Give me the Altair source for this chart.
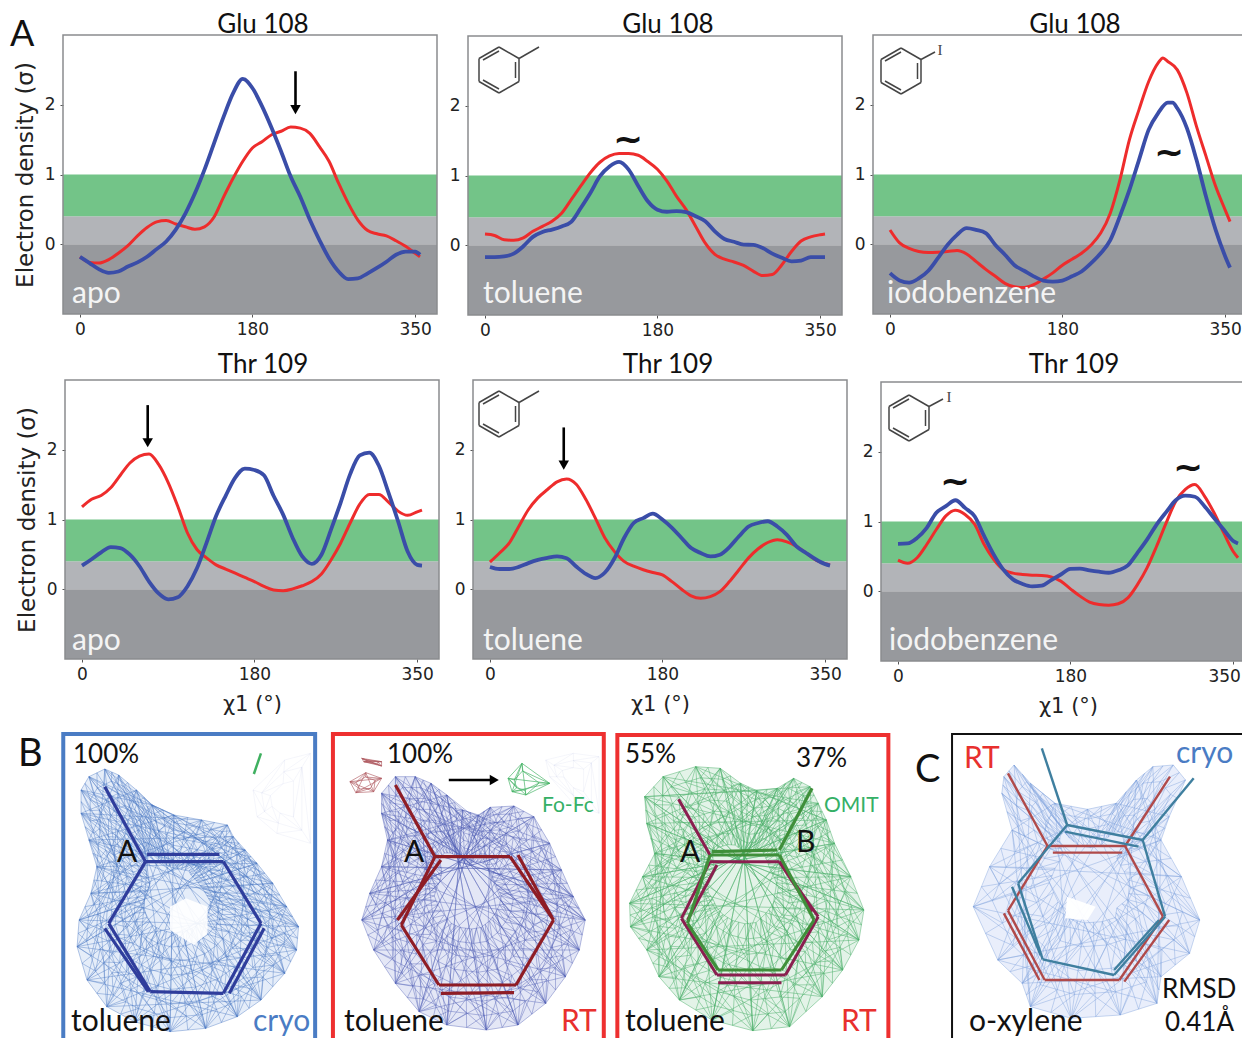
import altair as alt
import pandas as pd

# ---------- curve values: chi1 angle (deg) and electron density (sigma) ----------
DEG = list(range(0, 360, 10)) + [355]
DEG_IODO_RED = DEG[:29] + [285] + DEG[29:]
DEG_IODO_BLUE = DEG[:30] + [295] + DEG[30:]

GLU_APO_RED = [-.18,-.26,-.27,-.22,-.13,-.02,.12,.24,.32,.34,.29,.25,.215,.25,.39,.68,.95,1.19,1.38,1.47,1.57,1.62,1.68,1.665,1.59,1.40,1.19,.875,.59,.35,.2,.15,.12,.05,-.03,-.13,-.18]
GLU_APO_BLUE = [-.18,-.27,-.36,-.41,-.39,-.32,-.26,-.18,-.07,.04,.21,.44,.73,1.07,1.45,1.83,2.17,2.37,2.24,1.98,1.67,1.33,.97,.68,.35,.06,-.2,-.39,-.50,-.49,-.42,-.34,-.25,-.15,-.105,-.105,-.15]
GLU_TOL_RED = [.16,.14,.08,.07,.105,.2,.27,.345,.46,.655,.85,1.04,1.19,1.28,1.315,1.315,1.29,1.2,1.09,.92,.70,.51,.27,.03,-.13,-.2,-.24,-.29,-.37,-.435,-.42,-.28,-.09,.06,.12,.15,.16]
GLU_TOL_BLUE = [-.17,-.17,-.16,-.12,-.015,.12,.19,.225,.27,.335,.535,.75,.99,1.13,1.195,1.085,.85,.63,.51,.48,.49,.475,.415,.345,.2,.09,.05,.01,.005,-.04,-.12,-.18,-.23,-.22,-.17,-.17,-.17]
GLU_IOD_RED = [.205,.02,-.06,-.105,-.12,-.115,-.105,-.09,-.14,-.25,-.36,-.46,-.56,-.61,-.62,-.58,-.5,-.41,-.3,-.215,-.13,-.01,.16,.445,.92,1.5,1.93,2.33,2.6,2.67,2.62,2.5,2.17,1.69,1.26,.83,.49,.325]
GLU_IOD_BLUE = [-.415,-.52,-.55,-.49,-.38,-.2,-.01,.135,.23,.205,.16,-.01,-.15,-.3,-.38,-.46,-.52,-.535,-.52,-.46,-.39,-.27,-.13,.06,.4,.78,1.21,1.64,1.88,2.03,2.03,1.95,1.665,1.21,.68,.205,-.175,-.335]
THR_APO_RED = [1.18,1.29,1.345,1.455,1.635,1.81,1.91,1.94,1.79,1.53,1.19,.81,.57,.45,.35,.29,.23,.17,.11,.04,-.01,-.02,.005,.05,.11,.22,.42,.66,.95,1.22,1.36,1.36,1.25,1.12,1.06,1.11,1.135]
THR_APO_BLUE = [.34,.43,.53,.605,.59,.495,.33,.11,-.06,-.145,-.115,.04,.30,.665,1.05,1.34,1.6,1.73,1.71,1.635,1.34,1.07,.735,.47,.365,.495,.855,1.24,1.65,1.92,1.96,1.77,1.385,.975,.54,.35,.34]
THR_TOL_RED = [.39,.52,.66,.90,1.14,1.31,1.43,1.54,1.58,1.505,1.29,1.02,.735,.54,.40,.33,.28,.24,.205,.11,0,-.095,-.13,-.105,-.035,.11,.28,.45,.58,.67,.71,.68,.615,.52,.42,.365,.35]
THR_TOL_BLUE = [.32,.29,.29,.32,.375,.42,.45,.47,.445,.325,.22,.16,.24,.445,.735,.95,1.02,1.085,1.0,.88,.735,.59,.52,.47,.495,.605,.76,.90,.95,.975,.90,.78,.615,.52,.43,.36,.34]
THR_IOD_RED = [.445,.40,.48,.67,.885,1.08,1.16,1.10,.96,.67,.455,.31,.26,.24,.23,.225,.205,.145,.035,-.07,-.155,-.19,-.2,-.18,-.095,.095,.335,.645,.98,1.29,1.46,1.53,1.365,1.125,.84,.57,.48]
THR_IOD_BLUE = [.68,.685,.765,.91,1.125,1.22,1.305,1.195,1.075,.79,.525,.31,.17,.105,.07,.08,.16,.24,.32,.325,.30,.28,.265,.30,.37,.55,.74,.955,1.135,1.305,1.37,1.355,1.22,1.05,.885,.72,.685]

X_TICKS = [0, 180, 350]
Y_TICKS = [0, 1, 2]
X_DOMAIN = [-17.75, 372.75]
Y_DOMAIN = [-1, 3]
BANDS = {"low": [-1, 0], "mid": [0, .4], "green": [.4, 1]}

ARROW_GLU_APO = [225, 2.48, 1.93]
ARROW_THR_APO = [68.6, 2.64, 2.10]
ARROW_THR_TOL = [77, 2.32, 1.78]

# ---------- panel B / C drawings, read in crop units ----------
BLOB_CRYO = [(265,147),(300,165),(345,210),(385,255),(440,285),(510,300),(575,315),(590,350),(620,390),(650,430),(690,490),(725,560),(755,620),(750,690),(720,760),(660,840),(600,890),(520,925),(430,935),(340,905),(270,860),(220,780),(195,680),(200,600),(230,520),(245,440),(225,360),(205,280),(205,210),(225,170)]
HOLE_CRYO = [(430,560),(470,535),(525,560),(525,640),(490,675),(430,630)]
RING_CRYO = [(368,425),(565,425),(660,610),(565,820),(380,815),(275,610),(368,425)]
BONDS_CRYO = [[(265,200),(368,425)],[(372,403),(555,403)],[(668,625),(580,820)],[(265,625),(375,815)]]
FAINT_CRYO = [(640,210),(720,120),(785,100),(785,370),(700,340),(650,290)]
GREEN_TICK = [[(660,100),(642,162)]]

BLOB_RT = [(1000,170),(1050,170),(1090,190),(1130,225),(1170,270),(1210,285),(1240,262),(1300,258),(1350,290),(1390,370),(1420,450),(1450,530),(1480,600),(1465,690),(1430,770),(1380,850),(1310,915),(1230,930),(1130,915),(1060,875),(1000,790),(945,690),(915,600),(935,520),(965,440),(980,360),(965,280),(965,220)]
RING_RT = [(1100,410),(1290,410),(1400,600),(1305,795),(1110,795),(1015,615),(1100,410)]
BONDS_RT = [[(1000,195),(1100,410)],[(1115,420),(1005,600)],[(1310,405),(1395,590)],[(1115,820),(1300,818)]]
RED_BLOB_A = [(885,185),(925,158),(965,175),(945,215),(900,218)]
RED_BLOB_B = [(915,115),(965,125),(965,138),(920,125)]
FOFC_BLOB = [(1285,175),(1320,130),(1390,190),(1330,225),(1295,215)]
FAINT_RT = [(1380,120),(1450,100),(1515,110),(1515,280),(1450,250),(1390,170)]

BLOB_OMIT = [(210,140),(270,145),(320,190),(360,212),(410,205),(450,175),(490,200),(510,250),(530,300),(550,370),(590,470),(622,570),(610,660),(570,750),(520,830),(440,920),(350,932),(250,900),(170,840),(120,770),(90,690),(50,620),(48,550),(80,470),(110,400),(90,310),(85,230),(130,170)]
RING_OMIT_A = [(245,425),(415,425),(510,590),(430,765),(262,765),(175,595),(245,425)]
BONDS_OMIT_A = [[(168,238),(245,405)],[(265,788),(420,788)],[(495,575),(415,425)],[(262,435),(190,600)]]
RING_OMIT_B = [(245,405),(415,405),(500,600),(420,750),(265,750),(190,610),(245,405)]
BONDS_OMIT_B = [[(495,205),(415,390)],[(250,395),(410,390)]]

BLOB_C = [(990,135),(1030,190),(1090,250),(1170,268),(1240,250),(1290,180),(1330,140),(1380,135),(1410,180),(1370,290),(1350,360),(1400,470),(1445,600),(1420,700),(1350,770),(1340,850),(1250,885),(1130,895),(1030,860),(1010,790),(950,720),(890,560),(930,440),(985,330),(960,220),(965,170)]
HOLE_C = [(1120,530),(1190,560),(1170,600),(1115,595)]
RING_C_RT = [(1072,378),(1262,378),(1355,590),(1248,780),(1065,780),(975,572),(1072,378)]
BONDS_C_RT = [[(975,160),(1072,378)],[(1372,170),(1262,378)],[(1085,398),(1255,398)],[(965,580),(1052,780)],[(1370,600),(1260,785)]]
RING_C_CRYO = [(1120,315),(1305,360),(1360,590),(1235,765),(1060,718),(1000,490),(1120,315)]
BONDS_C_CRYO = [[(1058,85),(1120,315)],[(1430,175),(1305,360)],[(1115,335),(1295,380)],[(985,500),(1055,705)],[(1345,600),(1235,750)]]

# text: (label, x, baseline y, size, colour)
TEXT_LEFT = [
    ("A",10,46,36,"#111"),("B",18,766,38,"#111"),("C",915,782,38,"#111"),
    ("apo",72,303,30,"#f4f4f4"),("toluene",483,303,30,"#f4f4f4"),("iodobenzene",887,303,30,"#f4f4f4"),
    ("apo",72,650,30,"#f4f4f4"),("toluene",483,650,30,"#f4f4f4"),("iodobenzene",889,650,30,"#f4f4f4"),
    ("100%",73,763,26,"#111"),("toluene",71,1031,30,"#111"),("cryo",253,1031,30,"#4a7cc4"),("A",117,862,30,"#111"),
    ("100%",387,763,26,"#111"),("toluene",344,1031,30,"#111"),("RT",561,1031,30,"#e8302e"),("A",404,862,30,"#111"),
    ("Fo-Fc",542,812,21,"#35b066"),
    ("55%",625,763,26,"#111"),("37%",796,767,26,"#111"),("OMIT",824,812,21,"#35b066"),("A",680,862,30,"#111"),("B",796,852,30,"#111"),
    ("toluene",625,1031,30,"#111"),("RT",841,1031,30,"#e8302e"),
    ("RT",964,768,30,"#e8302e"),("cryo",1176,763,30,"#4a7cc4"),("o-xylene",969,1031,30,"#111"),
    ("RMSD",1162,998,26,"#111"),("0.41Å",1165,1031,26,"#111"),
]
TITLES = [("Glu 108",263,33),("Glu 108",668,33),("Glu 108",1075,33),("Thr 109",263,373),("Thr 109",668,373),("Thr 109",1074,373)]
TILDES = [(628,140),(1169,153),(955,482),(1188,468)]

# molecule icons: ring template around a centre, plus substituent
ICON_RING = [(0,-23),(20,-11.5),(20,11.5),(0,23),(-20,11.5),(-20,-11.5),(0,-23)]
ICON_INNER = [[(16.5,-8),(16.5,8)],[(-16,10),(0,19)],[(-16,-10),(0,-19)]]
ICON_SUB_METHYL = [(20,-11.5),(40,-23)]
ICON_SUB_IODO = [(20,-11.5),(34,-19)]
ICONS = [(499,70,"m"),(901,71,"i"),(499,414,"m"),(909,418,"i")]
IODO_LABELS = [("I",940,55),("I",949,402)]

W, H = 1234, 1030
OFF = 8


def page_x():
    return alt.Scale(domain=[0, 1250], range=[-OFF, 1250 - OFF], nice=False, zero=False)

def page_y():
    return alt.Scale(domain=[0, 1046], range=[-OFF, 1046 - OFF], nice=False, zero=False)

def b_x():
    return alt.Scale(domain=[0, 1568], range=[-OFF, 620 - OFF], nice=False, zero=False)

def c_x():
    return alt.Scale(domain=[0, 1568], range=[610 - OFF, 1250 - OFF], nice=False, zero=False)

def crop_y():
    return alt.Scale(domain=[0, 978], range=[720 - OFF, 1046 - OFF], nice=False, zero=False)


def seg_df(segs):
    return pd.DataFrame([{"x": a[0], "y": a[1], "x2": b[0], "y2": b[1]} for a, b in segs])

def chain(pts):
    return [(pts[i], pts[i + 1]) for i in range(len(pts) - 1)]

def rules(segs, xs, ys, color, width, opacity=1.0):
    return alt.Chart(seg_df(segs)).mark_rule(color=color, strokeWidth=width, opacity=opacity).encode(
        x=alt.X("x:Q", scale=xs, axis=None), y=alt.Y("y:Q", scale=ys, axis=None),
        x2="x2:Q", y2="y2:Q")

def polygon(pts, xs, ys, fill, opacity):
    closed = list(pts) + [pts[0]]
    df = pd.DataFrame({"x": [p[0] for p in closed], "y": [p[1] for p in closed], "i": range(len(closed))})
    return alt.Chart(df).mark_line(fill=fill, fillOpacity=opacity, strokeWidth=0).encode(
        x=alt.X("x:Q", scale=xs, axis=None), y=alt.Y("y:Q", scale=ys, axis=None), order="i:Q")

def inside(p, poly):
    c = False
    n = len(poly)
    for i in range(n):
        a, b = poly[i], poly[(i + 1) % n]
        if (a[1] > p[1]) != (b[1] > p[1]) and p[0] < a[0] + (p[1] - a[1]) * (b[0] - a[0]) / (b[1] - a[1]):
            c = not c
    return c

def mesh(pts, xs, ys, color, opacity, rings=(1.0, .9, .8, .7, .6, .5, .4, .3), chords=(5, 8, 11, 14), width=0.7, dense=True):
    base = list(pts)
    nodes = []
    for i, p in enumerate(base):
        nodes.append(p)
        if dense:
            q = base[(i + 1) % len(base)]
            nodes.append(((p[0] + q[0]) / 2, (p[1] + q[1]) / 2))
    n = len(nodes)
    cx_ = sum(p[0] for p in base) / len(base)
    cy_ = sum(p[1] for p in base) / len(base)
    layers = [[(cx_ + (p[0] - cx_) * r, cy_ + (p[1] - cy_) * r) for p in nodes] for r in rings]
    segs = []
    for li, ring in enumerate(layers):
        segs += [(ring[i], ring[(i + 1) % n]) for i in range(n)]
        if li + 1 < len(layers):
            nxt = layers[li + 1]
            segs += [(ring[i], nxt[i]) for i in range(n)]
            segs += [(ring[i], nxt[(i + (1 if li % 2 else n - 1)) % n]) for i in range(n)]
    m = len(base)
    for k in chords:
        for i in range(m):
            a, b = base[i], base[(i + k) % m]
            mids = [(a[0] + (b[0] - a[0]) * t / 6, a[1] + (b[1] - a[1]) * t / 6) for t in range(1, 6)]
            if all(inside(q, base) for q in mids):
                segs.append((a, b))
    return rules(segs, xs, ys, color, width, opacity)

def box(x0, x1, y0, y1, xs, ys, color, width):
    df = pd.DataFrame({"x": [x0], "x2": [x1], "y": [y0], "y2": [y1]})
    return alt.Chart(df).mark_rect(fill=None, stroke=color, strokeWidth=width).encode(
        x=alt.X("x:Q", scale=xs, axis=None), x2="x2:Q", y=alt.Y("y:Q", scale=ys, axis=None), y2="y2:Q")


def plot_panel(left, top, red, blue, deg_red=DEG, deg_blue=DEG, ytitle=None, xtitle=None, arrow=None, pull_last=False):
    xs = alt.Scale(domain=X_DOMAIN, range=[left - OFF, left + 374 - OFF], nice=False, zero=False)
    ys = alt.Scale(domain=Y_DOMAIN, range=[top + 279 - OFF, top - OFF], nice=False, zero=False)
    extra = {"labelOffset": alt.expr("datum.value == 350 ? -9 : 0")} if pull_last else {}
    xaxis = alt.Axis(values=X_TICKS, orient="bottom", offset=top + 279 - OFF - H, domain=False, grid=False,
                     tickSize=3, tickColor="#555", labelFont="DejaVu Sans", labelFontSize=17, labelColor="#222",
                     labelPadding=4, labelFlush=False, labelOverlap=False, title=xtitle, titleFont="DejaVu Sans",
                     titleFontSize=21, titleFontWeight="normal", titleColor="#222", titlePadding=11, **extra)
    yaxis = alt.Axis(values=Y_TICKS, orient="left", offset=-(left - OFF), domain=False, grid=False,
                     tickSize=3, tickColor="#555", labelFont="DejaVu Sans", labelFontSize=17, labelColor="#222",
                     labelPadding=5, labelFlush=False, labelOverlap=False, title=ytitle, titleFont="DejaVu Sans",
                     titleFontSize=23, titleFontWeight="normal", titleColor="#222", titlePadding=7)
    cols = {"low": "#97999d", "mid": "#b2b4b8", "green": "#73c488"}
    layers = []
    for i, (k, (a, b)) in enumerate(BANDS.items()):
        df = pd.DataFrame({"x": [X_DOMAIN[0]], "x2": [X_DOMAIN[1]], "y": [a], "y2": [b]})
        layers.append(alt.Chart(df).mark_rect(fill=cols[k], opacity=1).encode(
            x=alt.X("x:Q", scale=xs, axis=xaxis if i == 0 else None),
            x2="x2:Q",
            y=alt.Y("y:Q", scale=ys, axis=yaxis if i == 0 else None),
            y2="y2:Q"))
    layers.append(box(X_DOMAIN[0], X_DOMAIN[1], Y_DOMAIN[0], Y_DOMAIN[1], xs, ys, "#8a8c8e", 1.5))
    for deg, vals, col, w in ((deg_red, red, "#ee2c2c", 3), (deg_blue, blue, "#3a4da8", 3.8)):
        df = pd.DataFrame({"deg": deg, "sigma": vals})
        layers.append(alt.Chart(df).mark_line(color=col, strokeWidth=w, interpolate="monotone").encode(
            x=alt.X("deg:Q", scale=xs, axis=None), y=alt.Y("sigma:Q", scale=ys, axis=None)))
    if arrow:
        d, y0, y1 = arrow
        df = pd.DataFrame({"x": [d], "y": [y0], "y2": [y1]})
        layers.append(alt.Chart(df).mark_rule(color="#000", strokeWidth=2.6).encode(
            x=alt.X("x:Q", scale=xs, axis=None), y=alt.Y("y:Q", scale=ys, axis=None), y2="y2:Q"))
        layers.append(alt.Chart(df).mark_point(shape="triangle-down", filled=True, color="#000", size=110, opacity=1).encode(
            x=alt.X("x:Q", scale=xs, axis=None), y=alt.Y("y2:Q", scale=ys, axis=None)))
    return layers


panels = (
    plot_panel(63, 35, GLU_APO_RED, GLU_APO_BLUE, ytitle="Electron density (σ)", arrow=ARROW_GLU_APO)
    + plot_panel(468, 36, GLU_TOL_RED, GLU_TOL_BLUE)
    + plot_panel(873, 35, GLU_IOD_RED, GLU_IOD_BLUE, deg_red=DEG_IODO_RED, deg_blue=DEG_IODO_BLUE)
    + plot_panel(65, 380, THR_APO_RED, THR_APO_BLUE, ytitle="Electron density (σ)", xtitle="χ1 (°)", arrow=ARROW_THR_APO)
    + plot_panel(473, 380, THR_TOL_RED, THR_TOL_BLUE, xtitle="χ1 (°)", arrow=ARROW_THR_TOL)
    + plot_panel(881, 382, THR_IOD_RED, THR_IOD_BLUE, xtitle="χ1 (°)", pull_last=True)
)

# panel B drawings
bx, by, cx = b_x(), crop_y(), c_x()
DARK_BLUE, DARK_RED = "#2f3d9c", "#8f1d25"
SMALL = dict(rings=(1.0, .6), chords=(2,), dense=False)
panel_b = [
    mesh(FAINT_CRYO, bx, by, "#8fa0d8", 0.13, rings=(1.0, .7, .4), chords=(), dense=False),
    polygon(BLOB_CRYO, bx, by, "#dfe8f7", 0.8),
    mesh(BLOB_CRYO, bx, by, "#4a78c4", 0.6),
    polygon(HOLE_CRYO, bx, by, "#ffffff", 0.9),
    rules(GREEN_TICK, bx, by, "#3fb060", 2.5),
    rules(chain(RING_CRYO) + BONDS_CRYO, bx, by, DARK_BLUE, 3.2),
    box(160, 797, 42, 1100, bx, by, "#4a7cc4", 4),
    mesh(FAINT_RT, bx, by, "#8fa0d8", 0.13, rings=(1.0, .7, .4), chords=(), dense=False),
    polygon(BLOB_RT, bx, by, "#dde1f4", 0.8),
    mesh(BLOB_RT, bx, by, "#4f5fb5", 0.6),
    rules(chain(RING_RT) + BONDS_RT, bx, by, DARK_RED, 3.2),
    mesh(RED_BLOB_A, bx, by, "#b05a60", 0.9, **SMALL),
    mesh(RED_BLOB_B, bx, by, "#b05a60", 0.9, **SMALL),
    mesh(FOFC_BLOB, bx, by, "#3fb060", 0.95, **SMALL),
    rules([[(1135,180),(1240,180)]], bx, by, "#000", 2.6),
    box(842, 1527, 42, 1100, bx, by, "#ee3030", 4),
]
panel_c = [
    polygon(BLOB_OMIT, cx, by, "#dcf0e2", 0.8),
    mesh(BLOB_OMIT, cx, by, "#4caf6a", 0.7, width=0.7),
    rules(chain(RING_OMIT_A) + BONDS_OMIT_A, cx, by, "#8a1f4f", 3),
    rules(chain(RING_OMIT_B) + BONDS_OMIT_B, cx, by, "#3f8f3a", 3.2),
    box(18, 682, 45, 1100, cx, by, "#ee3030", 4),
    polygon(BLOB_C, cx, by, "#e3eafa", 0.8),
    mesh(BLOB_C, cx, by, "#7a9edc", 0.6, rings=(1.0, .84, .68, .52, .36), chords=(5, 8, 11)),
    polygon(HOLE_C, cx, by, "#ffffff", 0.95),
    rules(chain(RING_C_RT) + BONDS_C_RT, cx, by, "#b04a4a", 2.4),
    rules(chain(RING_C_CRYO) + BONDS_C_CRYO, cx, by, "#3f7f9f", 2.4),
    box(838, 1700, 42, 1100, cx, by, "#111", 2),
]

# page-level labels and icons
px, py = page_x(), page_y()
icon_segs = []
for ix, iy, kind in ICONS:
    shift = lambda p: (p[0] + ix, p[1] + iy)
    for a, b in chain(ICON_RING) + ICON_INNER + [ICON_SUB_METHYL if kind == "m" else ICON_SUB_IODO]:
        icon_segs.append((shift(a), shift(b)))

def text_layer(rows, align, font="Lato", weight="normal", baseline="alphabetic"):
    df = pd.DataFrame(rows, columns=["t", "x", "y", "s", "c"])
    return alt.Chart(df).mark_text(align=align, baseline=baseline, font=font, fontWeight=weight).encode(
        x=alt.X("x:Q", scale=px, axis=None), y=alt.Y("y:Q", scale=py, axis=None),
        text="t:N", size=alt.Size("s:Q", scale=None, legend=None), color=alt.Color("c:N", scale=None, legend=None))

panel_t = [
    rules(icon_segs, px, py, "#444", 1.5),
    text_layer([(t, x, y, 26, "#111") for t, x, y in TITLES], "center"),
    text_layer([("~", x, y, 36, "#111") for x, y in TILDES], "center", font="DejaVu Sans", weight="bold", baseline="middle"),
    text_layer([(t, x, y, 15, "#444") for t, x, y in IODO_LABELS], "center", font="Liberation Serif"),
    text_layer(TEXT_LEFT, "left"),
]

# arrowhead of the B panel arrow
head = pd.DataFrame({"x": [1250], "y": [180]})
panel_head = alt.Chart(head).mark_point(shape="triangle-right", filled=True, color="#000", size=110, opacity=1).encode(
    x=alt.X("x:Q", scale=b_x(), axis=None), y=alt.Y("y:Q", scale=crop_y(), axis=None))

chart = alt.layer(*panels, *panel_b, panel_head, *panel_c, *panel_t).resolve_scale(
    x="independent", y="independent"
).properties(
    width=W, height=H, padding=0, autosize=alt.AutoSizeParams(type="none"), background="white"
).configure_view(stroke=None)

chart.save("out.html", embed_options={"renderer": "svg", "actions": False})
